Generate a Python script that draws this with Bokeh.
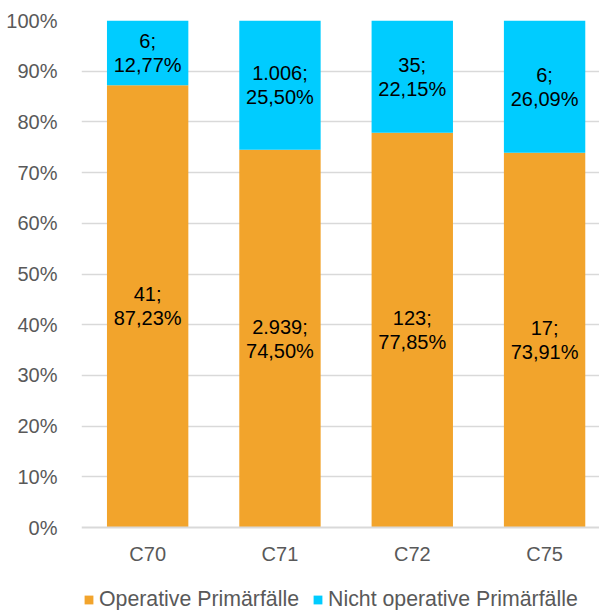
from bokeh.plotting import figure
from bokeh.models import (ColumnDataSource, FixedTicker, NumeralTickFormatter, Range1d,
                          Legend, LegendItem, Span)
from bokeh.core.properties import value
from bokeh.embed import file_html
from bokeh.resources import INLINE

categories = ["C70", "C71", "C72", "C75"]
operative = [41, 2939, 123, 17]
nicht_operative = [6, 1006, 35, 6]
series_names = ["Operative Primärfälle", "Nicht operative Primärfälle"]
colors = ["#F2A42C", "#00CCFF"]

def de_int(n):
    return f"{n:,}".replace(",", ".")

def de_pct(x):
    return f"{x*100:.2f}".replace(".", ",") + "%"

# layout (pixels)
PX_PER_UNIT = 507          # height of 0%..100%
FRAME_H = 590              # frame extends below 0% to hold category labels + legend
CAT_LABEL_OFFSET = 26      # px below the 0% line
y_min = -(FRAME_H - PX_PER_UNIT) / PX_PER_UNIT
cat_label_y = -CAT_LABEL_OFFSET / PX_PER_UNIT

xs = list(range(1, len(categories) + 1))
tot = [a + b for a, b in zip(operative, nicht_operative)]
p_op = [a / t for a, t in zip(operative, tot)]
p_no = [b / t for b, t in zip(nicht_operative, tot)]

src = ColumnDataSource(dict(
    x=xs,
    cat=categories,
    cat_y=[cat_label_y] * len(xs),
    op_top=p_op,
    no_bot=p_op,
    no_top=[1.0] * len(xs),
    op_mid=[v / 2 for v in p_op],
    no_mid=[a + b / 2 for a, b in zip(p_op, p_no)],
    op_lab=[f"{de_int(a)};\n{de_pct(v)}" for a, v in zip(operative, p_op)],
    no_lab=[f"{de_int(b)};\n{de_pct(v)}" for b, v in zip(nicht_operative, p_no)],
))

p = figure(frame_width=518, frame_height=FRAME_H, output_backend="svg", toolbar_location=None,
           x_range=Range1d(0.5, 4.415), y_range=Range1d(y_min, 1),
           min_border_left=81, min_border_top=20, min_border_right=0, min_border_bottom=0)
p.outline_line_color = None
p.background_fill_color = "white"
p.border_fill_color = "white"

r1 = p.vbar(x="x", width=0.615, bottom=0, top="op_top", source=src,
            fill_color=colors[0], line_color=None)
r2 = p.vbar(x="x", width=0.615, bottom="no_bot", top="no_top", source=src,
            fill_color=colors[1], line_color=None)

for ycol, tcol in [("op_mid", "op_lab"), ("no_mid", "no_lab")]:
    p.text(x="x", y=ycol, text=tcol, source=src, text_align="center",
           text_baseline="middle", text_font=value("Liberation Sans"),
           text_font_size="20px", text_color="black", text_line_height=1.1)

# category labels
p.text(x="x", y="cat_y", text="cat", source=src, text_align="center",
       text_baseline="middle", text_font=value("Liberation Sans"),
       text_font_size="20px", text_color="#595959")

# baseline at 0%
p.add_layout(Span(location=0, dimension="width", line_color="#D9D9D9", line_width=2))

p.xaxis.visible = False

p.yaxis.ticker = FixedTicker(ticks=[i / 10 for i in range(11)])
p.yaxis.formatter = NumeralTickFormatter(format="0%")
p.yaxis.axis_line_color = None
p.yaxis.major_tick_line_color = None
p.yaxis.minor_tick_line_color = None
p.yaxis.major_label_text_font = "Liberation Sans"
p.yaxis.major_label_text_font_size = "20px"
p.yaxis.major_label_text_color = "#595959"
p.yaxis.major_label_standoff = 18

p.xgrid.grid_line_color = None
p.ygrid.grid_line_color = "#D9D9D9"
p.ygrid.grid_line_width = 1.5
p.ygrid.ticker = FixedTicker(ticks=[i / 10 for i in range(1, 11)])

legend = Legend(items=[LegendItem(label=series_names[0], renderers=[r1]),
                       LegendItem(label=series_names[1], renderers=[r2])],
                orientation="horizontal", location=(2, -2),
                label_text_font="Liberation Sans", label_text_font_size="21.3px",
                label_text_color="#595959", glyph_width=11, glyph_height=11,
                label_standoff=5, spacing=13, border_line_color=None,
                padding=0, margin=0, background_fill_alpha=0)
p.add_layout(legend, "center")

open("out.html", "w").write(file_html(p, INLINE))
